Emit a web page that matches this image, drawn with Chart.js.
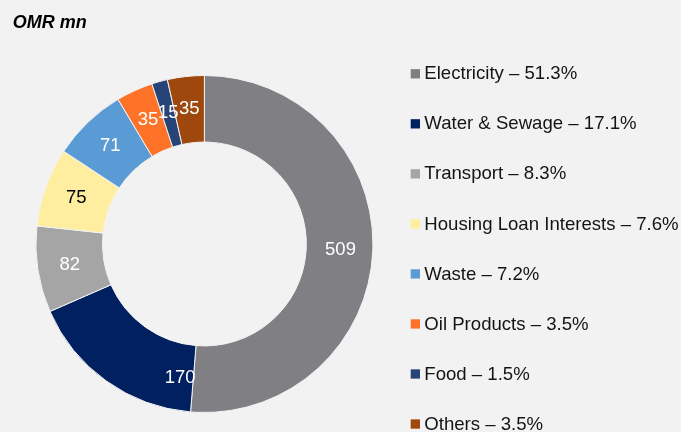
<!DOCTYPE html>
<html><head><meta charset="utf-8">
<script src="https://cdn.jsdelivr.net/npm/chart.js@4.4.1/dist/chart.umd.min.js"></script>
<style>
html,body{margin:0;padding:0;background:#f2f2f2;}
#wrap{width:681px;height:432px;position:relative;overflow:hidden;}
canvas{display:block;}
</style>
</head><body>
<div id="wrap"><canvas id="c" width="681" height="432"></canvas></div>
<script>
// ---- data ----
const categories = ['Electricity', 'Water & Sewage', 'Transport', 'Housing Loan Interests', 'Waste', 'Oil Products', 'Food', 'Others'];
const values = [509, 170, 82, 75, 71, 35, 15, 35];
const titleText = 'OMR mn';

// ---- styles ----
const sliceColors = ['#808084', '#002060', '#a5a5a5', '#ffeea0', '#5b9bd5', '#fe7328', '#264478', '#9e480e'];
const labelColors = ['#ffffff', '#ffffff', '#ffffff', '#000000', '#ffffff', '#ffffff', '#ffffff', '#ffffff'];
const labelAnchor = [0.5, 0.09, 0.5, 0.5, 0.5, 0.5, 0.5, 0.5];
const FONT = "'Liberation Sans', Arial, sans-serif";

const total = values.reduce((a, b) => a + b, 0);
const legendTexts = categories.map((c, i) => c + ' \u2013 ' + (values[i] / total * 100).toFixed(1) + '%');

const sliceLabels = {
  id: 'sliceLabels',
  afterDatasetsDraw(chart) {
    const ctx = chart.ctx;
    const meta = chart.getDatasetMeta(0);
    ctx.save();
    ctx.font = '18.5px ' + FONT;
    ctx.textAlign = 'center';
    ctx.textBaseline = 'middle';
    meta.data.forEach((arc, i) => {
      const p = arc.getProps(['x', 'y', 'startAngle', 'endAngle', 'innerRadius', 'outerRadius'], true);
      const a = p.startAngle + (p.endAngle - p.startAngle) * labelAnchor[i];
      const r = (p.innerRadius + p.outerRadius) / 2 + 1;
      ctx.fillStyle = labelColors[i];
      ctx.fillText(String(values[i]), p.x + Math.cos(a) * r, p.y + Math.sin(a) * r);
    });
    ctx.restore();
  }
};

const sideLegend = {
  id: 'sideLegend',
  afterDraw(chart) {
    const ctx = chart.ctx;
    ctx.save();
    ctx.font = '18.6px ' + FONT;
    ctx.textAlign = 'left';
    ctx.textBaseline = 'middle';
    const boxX = 410.7, box = 9.3, textX = 424.3, y0 = 73.8, step = 50.03;
    legendTexts.forEach((t, i) => {
      const y = y0 + i * step;
      ctx.fillStyle = sliceColors[i];
      ctx.fillRect(boxX, y - box / 2, box, box);
      ctx.fillStyle = '#141414';
      ctx.fillText(t, textX, y + 0.5);
    });
    ctx.restore();
  }
};

new Chart(document.getElementById('c'), {
  type: 'doughnut',
  data: {
    labels: categories,
    datasets: [{
      data: values,
      backgroundColor: sliceColors,
      borderColor: '#f2f2f2',
      borderWidth: 1,
      hoverOffset: 0
    }]
  },
  options: {
    responsive: false,
    devicePixelRatio: 1,
    animation: false,
    cutout: '60.5%',
    layout: { padding: { left: 12.7, right: 284.9, top: 0, bottom: 19 } },
    plugins: {
      legend: { display: false },
      tooltip: { enabled: false },
      title: {
        display: true,
        text: titleText,
        align: 'start',
        color: '#000000',
        font: { family: FONT, size: 18, weight: 'bold', style: 'italic', lineHeight: 1.2 },
        padding: { top: 12.5, bottom: 40.9 }
      }
    }
  },
  plugins: [sliceLabels, sideLegend]
});
</script>
</body></html>
